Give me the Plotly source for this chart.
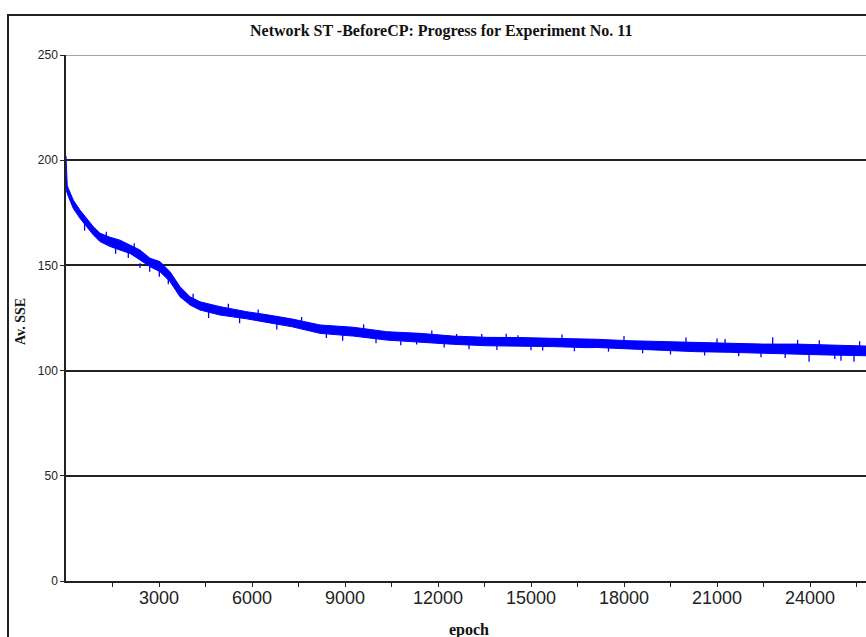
import plotly.graph_objects as go

# ---- data ----
env_epochs = [0, 40, 75, 237, 450, 667, 882, 1097, 1419, 1742, 2065, 2387, 2710, 3032, 3355,
              3677, 4000, 4323, 4968, 5828, 6500, 7300, 8194, 9269, 10344, 11419, 12494,
              13570, 14645, 15720, 16796, 17097, 18172, 19247, 20323, 21398, 22473, 23548,
              24624, 25699, 26000]
env_upper = [202, 188, 186.6, 181, 176.3, 172.4, 168.4, 165.3, 163.4, 162, 159.7, 157.3, 153.4,
             151.8, 147, 139.9, 135.1, 132.7, 130.4, 128, 126.5, 124.5, 121.7, 120.6, 118.5,
             117.7, 116.4, 115.8, 115.7, 115.5, 115.2, 114.9, 114.2, 113.8, 113.3, 113.0,
             112.6, 112.6, 112.2, 111.7, 111.6]
env_lower = [186, 184, 182.8, 177, 172.4, 168.4, 164.5, 161.3, 159, 157.3, 155.7, 152.6, 149.4,
             147, 142.3, 135.1, 131.2, 128.8, 126.4, 124.6, 122.8, 120.8, 117.7, 116.4, 114.5,
             113.4, 112.5, 111.8, 111.7, 111.4, 110.9, 111.0, 110.3, 109.5, 109.0, 108.7,
             108.2, 107.9, 107.4, 107.1, 107.0]

spike_epochs = [600, 1300, 1600, 2010, 2200, 2387, 2700, 3010, 3300, 4100, 4600, 5237, 5600,
                6200, 6800, 7600, 8400, 8925, 9600, 10000, 10800, 11310, 11800, 12200, 12600,
                13000, 13410, 13900, 14200, 14580, 15000, 15377, 16000, 16400, 17500, 18000,
                18600, 19500, 20000, 20600, 21000, 21260, 21700, 22420, 22796, 23200, 23600,
                23970, 24300, 24800, 25000, 25420, 25600]
spike_from = [171, 162, 160, 157, 156, 151, 151, 149, 145, 133, 129.5, 129, 126.5,
              125, 124, 122, 119.5, 119.5, 118, 117, 116, 115.5, 115, 114.5, 114.5,
              114, 113.8, 113.8, 113.7, 113.7, 113.6, 113.4, 113.3, 113.1, 112.8, 112.3,
              112, 111.5, 111.2, 111, 110.9, 110.8, 110.7, 110.4, 110.4, 110.2, 110.2,
              110.2, 109.9, 109.8, 109.8, 109.5, 109.4]
spike_to = [166.5, 166, 155.5, 153.5, 160.5, 148.8, 147, 144.6, 141, 136.5, 125, 131.8, 122.5,
            129, 119.5, 125.5, 115.5, 114.2, 122, 113, 112, 112.4, 119, 111, 117.4,
            110.2, 117.4, 109.8, 117.5, 116.8, 109.7, 109.5, 117.2, 109.2, 109, 116.5,
            108.2, 107.7, 115.7, 107.2, 115.2, 115.0, 106.8, 106.3, 115.8, 106, 114.6,
            104.2, 114.4, 105.5, 104.7, 104.2, 114]

x_tick_vals = [1500 * i for i in range(1, 18)]
x_tick_text = [str(v) if v % 3000 == 0 else "" for v in x_tick_vals]
y_tick_vals = [0, 50, 100, 150, 200, 250]

title_text = "Network ST -BeforeCP: Progress for Experiment No. 11"
x_title = "epoch"
y_title = "Av. SSE"

BLUE = "#0000ff"

fig = go.Figure()
fig.add_trace(go.Scatter(x=env_epochs, y=env_upper, mode="lines",
                         line=dict(color=BLUE, width=1), showlegend=False, hoverinfo="skip"))
fig.add_trace(go.Scatter(x=env_epochs, y=env_lower, mode="lines", fill="tonexty",
                         fillcolor=BLUE, line=dict(color=BLUE, width=1),
                         showlegend=False, hoverinfo="skip"))
sx, sy = [], []
for e, a, b in zip(spike_epochs, spike_from, spike_to):
    sx += [e, e, None]
    sy += [a, b, None]
fig.add_trace(go.Scatter(x=sx, y=sy, mode="lines", line=dict(color=BLUE, width=1.3),
                         showlegend=False, hoverinfo="skip"))

L, T, B = 66, 55, 56
W, H = 866, 637
pw = W - L
ph = H - T - B

fig.update_layout(
    width=W, height=H,
    margin=dict(l=L, r=0, t=T, b=B),
    paper_bgcolor="white", plot_bgcolor="white",
    showlegend=False,
    xaxis=dict(range=[0, (866 - 66) / 0.031], tickvals=x_tick_vals, ticktext=x_tick_text,
               showgrid=False, zeroline=False, showline=True, linecolor="#222", linewidth=1.5,
               ticks="outside", ticklen=4, tickwidth=1.2, tickcolor="#222",
               ticklabelstandoff=-4,
               tickfont=dict(family="Liberation Sans, Arial", size=18, color="#222")),
    yaxis=dict(range=[0, 250], tickvals=y_tick_vals, showgrid=True, gridcolor="#222",
               gridwidth=1.5, zeroline=False, showline=True, linecolor="#222", linewidth=1.5,
               ticks="outside", ticklen=4, tickwidth=1.2, tickcolor="#222",
               tickfont=dict(family="Liberation Sans, Arial", size=12, color="#222")),
)

# outer border of the chart area
fig.add_shape(type="rect", xref="paper", yref="paper",
              x0=(8 - L) / pw, x1=(880 - L) / pw, y0=-(H + 20 - (H - B)) / ph, y1=1 + (T - 15) / ph,
              line=dict(color="#222", width=2), fillcolor="rgba(0,0,0,0)", layer="above")
# lighter top gridline
fig.add_shape(type="line", xref="paper", yref="y", x0=0, x1=1, y0=250, y1=250,
              line=dict(color="#888", width=1.5))

fig.add_annotation(text="<b>" + title_text + "</b>", xref="paper", yref="paper",
                   x=(441 - L) / pw, y=1 + (T - 31) / ph, showarrow=False,
                   xanchor="center", yanchor="middle",
                   font=dict(family="Liberation Serif, Times New Roman", size=16, color="#111"))
fig.add_annotation(text="<b>" + x_title + "</b>", xref="paper", yref="paper",
                   x=(469 - L) / pw, y=-(630 - (H - B)) / ph, showarrow=False,
                   xanchor="center", yanchor="middle",
                   font=dict(family="Liberation Serif, Times New Roman", size=16, color="#111"))
fig.add_annotation(text="<b>" + y_title + "</b>", xref="paper", yref="paper",
                   x=-(L - 20) / pw, y=(581 - 322) / ph, showarrow=False, textangle=-90,
                   xanchor="center", yanchor="middle",
                   font=dict(family="Liberation Serif, Times New Roman", size=14, color="#111"))

fig.write_html("out.html")
